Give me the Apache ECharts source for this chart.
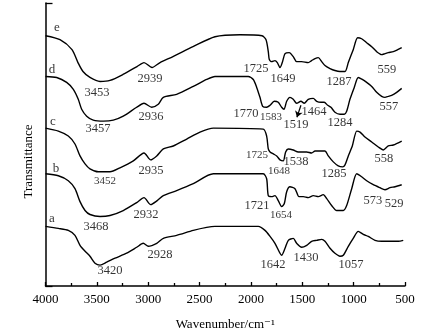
<!DOCTYPE html>
<html>
<head>
<meta charset="utf-8">
<script src="https://cdn.jsdelivr.net/npm/echarts@6/dist/echarts.min.js"></script>
<style>
  html, body { margin: 0; padding: 0; background: #ffffff; }
  #ftir { width: 430px; height: 336px; }
</style>
</head>
<body>
<div id="ftir"></div>
<script>
// 红外光谱 a-e（纵坐标为相对透过率，任意单位）
const curveA = [
  [4000, 60], [3875, 58], [3778, 56], [3713, 51], [3664, 41], [3615, 35], [3567, 30], [3518, 23],
  [3469, 21], [3404, 24], [3323, 28], [3210, 33], [3112, 39], [3048, 43], [2999, 40], [2917, 43],
  [2853, 48], [2723, 51], [2561, 56], [2431, 59], [2350, 60], [2026, 60], [1928, 60], [1863, 56],
  [1814, 50], [1766, 43], [1717, 33], [1701, 31], [1668, 38], [1636, 46], [1588, 48], [1555, 43],
  [1506, 39], [1457, 41], [1409, 45], [1360, 46], [1311, 47], [1279, 45], [1230, 38], [1182, 33],
  [1133, 30], [1101, 31], [1052, 40], [1004, 48], [955, 55], [906, 52], [858, 50], [792, 46],
  [727, 45], [630, 45], [565, 45], [517, 46]
];
const curveB = [
  [4000, 113], [3875, 111], [3778, 106], [3713, 98], [3664, 85], [3615, 76], [3567, 72], [3469, 70],
  [3372, 71], [3243, 76], [3112, 84], [3041, 89], [2976, 82], [2912, 86], [2853, 91], [2723, 96],
  [2561, 103], [2366, 113], [1880, 113], [1847, 108], [1831, 91], [1798, 90], [1766, 91], [1734, 86],
  [1701, 80], [1675, 83], [1652, 95], [1620, 100], [1571, 98], [1532, 90], [1490, 90], [1442, 89],
  [1393, 91], [1344, 90], [1296, 92], [1262, 88], [1214, 81], [1165, 76], [1101, 76], [1068, 81],
  [1019, 98], [970, 113], [922, 110], [873, 106], [809, 102], [744, 99], [695, 97], [646, 99],
  [598, 100], [532, 102]
];
const curveC = [
  [4000, 159], [3875, 156], [3778, 151], [3713, 143], [3664, 131], [3615, 123], [3567, 118], [3486, 115],
  [3372, 115], [3275, 119], [3145, 126], [3041, 134], [2976, 127], [2917, 131], [2853, 138], [2756, 141],
  [2625, 148], [2496, 155], [2366, 159], [1880, 158], [1847, 151], [1831, 138], [1814, 135], [1782, 133],
  [1749, 131], [1717, 127], [1685, 126], [1662, 135], [1636, 138], [1588, 137], [1539, 135], [1506, 135],
  [1457, 135], [1409, 134], [1376, 136], [1328, 136], [1279, 136], [1247, 131], [1198, 125], [1150, 121],
  [1107, 120], [1084, 122], [1052, 131], [1013, 141], [970, 156], [938, 155], [890, 150], [824, 145],
  [760, 140], [712, 137], [663, 141], [614, 142], [532, 146]
];
const curveD = [
  [4000, 211], [3891, 210], [3794, 205], [3729, 198], [3681, 188], [3648, 178], [3599, 171], [3535, 167],
  [3437, 166], [3340, 167], [3243, 171], [3112, 180], [3041, 184], [2966, 180], [2902, 183], [2853, 190],
  [2723, 193], [2561, 201], [2431, 208], [2350, 211], [2026, 211], [1977, 208], [1944, 200], [1912, 190],
  [1886, 181], [1847, 180], [1814, 182], [1773, 186], [1734, 185], [1701, 180], [1678, 178], [1652, 186],
  [1620, 190], [1588, 188], [1555, 184], [1513, 186], [1481, 184], [1442, 188], [1393, 189], [1360, 186],
  [1318, 185], [1286, 185], [1253, 182], [1221, 180], [1182, 175], [1133, 173], [1091, 173], [1068, 176],
  [1036, 188], [994, 200], [955, 210], [916, 208], [873, 205], [824, 201], [776, 195], [727, 191],
  [695, 190], [663, 191], [630, 192], [581, 195], [532, 199]
];
const curveE = [
  [4000, 252], [3859, 248], [3742, 238], [3684, 225], [3635, 216], [3567, 210], [3469, 206], [3372, 207],
  [3246, 213], [3109, 221], [3041, 225], [2963, 220], [2885, 225], [2759, 231], [2564, 241], [2350, 251],
  [2107, 253], [1892, 252], [1853, 248], [1831, 236], [1821, 228], [1798, 226], [1766, 227], [1743, 225],
  [1717, 220], [1695, 225], [1668, 234], [1627, 235], [1588, 231], [1555, 226], [1506, 226], [1442, 225],
  [1409, 227], [1376, 229], [1344, 230], [1311, 226], [1279, 222], [1230, 219], [1182, 217], [1133, 216],
  [1084, 216], [1052, 225], [1004, 238], [961, 250], [922, 249], [873, 245], [824, 241], [776, 236],
  [727, 233], [695, 234], [663, 235], [614, 236], [571, 238], [532, 240]
];

// 曲线名称 a-e
const curveNames = [
  [3937, 68, "a"], [3898, 118, "b"], [3927, 166, "c"], [3937, 218, "d"], [3888, 260, "e"]
];
// 峰位标注
const peakLabels = [
  [3499, 195, "3453"], [2983, 209, "2939"], [1951, 219, "1725"], [1688, 209, "1649"], [1143, 206, "1287"], [676, 218, "559"],
  [3489, 158, "3457"], [2973, 170, "2936"], [2048, 173, "1770"], [1561, 162, "1519"], [1386, 176, "1464"], [1133, 164, "1284"], [656, 181, "557"],
  [2973, 116, "2935"], [1561, 125, "1538"], [1191, 113, "1285"], [705, 128, "558"],
  [3508, 60, "3468"], [3022, 72, "2932"], [1941, 81, "1721"], [812, 86, "573"], [607, 83, "529"],
  [3372, 15, "3420"], [2885, 32, "2928"], [1785, 21, "1642"], [1464, 28, "1430"], [1026, 21, "1057"]
];
// 字号较小的标注
const smallLabels = [
  [1805, 170, "1583"], [3421, 106, "3452"], [1941, 132, "1725"], [1727, 116, "1648"], [1707, 71, "1654"]
];
// 1519 处的箭头
const arrow1519 = [[1513, 182], [1552, 170]];

const xTicks = [4000, 3500, 3000, 2500, 2000, 1500, 1000, 500];

const FONT = "'Liberation Serif', 'DejaVu Serif', serif";

const chart = echarts.init(document.getElementById("ftir"));

function curve(data) {
  return {
    type: "line",
    data: data,
    showSymbol: false,
    smooth: 0.25,
    silent: true,
    lineStyle: { color: "#000", width: 1.4 },
  };
}

function textSeries(data, size) {
  return {
    type: "scatter",
    data: data,
    symbolSize: 0,
    silent: true,
    label: {
      show: true,
      position: "inside",
      formatter: (p) => p.data[2],
      color: "#000",
      fontFamily: FONT,
      fontSize: size,
    },
  };
}

const arrowSeries = curve([]);
arrowSeries.markLine = {
  silent: true,
  symbol: ["none", "arrow"],
  symbolSize: 6,
  label: { show: false },
  lineStyle: { color: "#000", width: 1.2, type: "solid" },
  data: [[{ coord: arrow1519[0] }, { coord: arrow1519[1] }]],
};

chart.setOption({
  animation: false,
  grid: { left: 45.5, right: 25, top: 3, bottom: 48 },
  xAxis: {
    type: "value",
    inverse: true,
    min: 500,
    max: 4000,
    interval: 500,
    name: "Wavenumber/cm⁻¹",
    nameLocation: "middle",
    nameGap: 32,
    nameTextStyle: { color: "#000", fontFamily: FONT, fontSize: 13 },
    axisLine: { lineStyle: { color: "#000", width: 1.5 } },
    axisTick: { inside: true, length: 4, lineStyle: { color: "#000", width: 1.3 } },
    minorTick: { show: true, splitNumber: 2, length: 3, lineStyle: { color: "#000", width: 1.3 } },
    splitLine: { show: false },
    axisLabel: {
      color: "#000",
      fontFamily: FONT,
      fontSize: 13,
      margin: 7,
      formatter: (v) => (xTicks.includes(v) ? String(v) : ""),
    },
  },
  yAxis: {
    type: "value",
    min: 0,
    max: 285,
    interval: 285,
    name: "Transmittance",
    nameLocation: "middle",
    nameGap: 10,
    nameTextStyle: { color: "#000", fontFamily: FONT, fontSize: 13, padding: [0, 34, 0, 0] },
    axisLine: { show: true, lineStyle: { color: "#000", width: 1.5 } },
    axisTick: { show: true, inside: true, length: 7, lineStyle: { color: "#000", width: 1.3 } },
    axisLabel: { show: false },
    splitLine: { show: false },
  },
  series: [
    curve(curveA),
    curve(curveB),
    curve(curveC),
    curve(curveD),
    curve(curveE),
    textSeries(curveNames, 13),
    textSeries(peakLabels, 12.5),
    textSeries(smallLabels, 11),
    arrowSeries,
  ],
});
</script>
</body>
</html>
